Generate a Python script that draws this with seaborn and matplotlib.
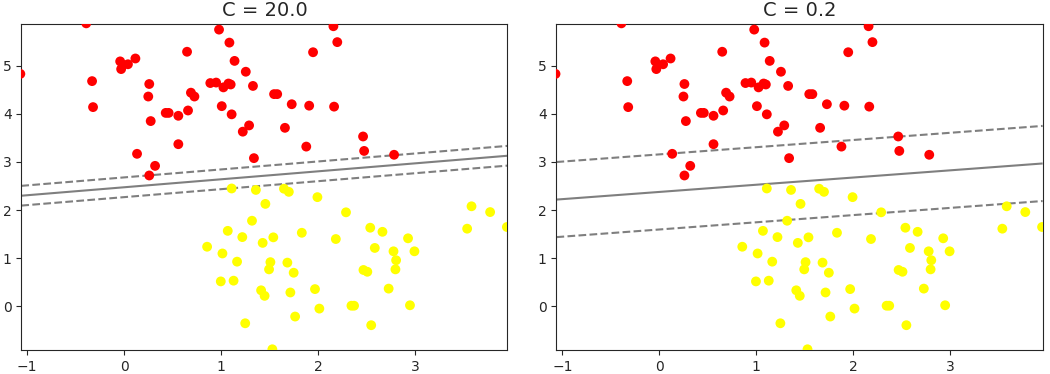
import numpy as np
import pandas as pd
import matplotlib
matplotlib.use("Agg")
import matplotlib.pyplot as plt
import seaborn as sns

# --- data ---
red_x = [-0.39, 0.98, 1.087, 0.65, 1.14, 0.117, -0.04, 0.04, -0.03, -1.07,
         1.256, -0.33, 0.26, 0.89, 0.95, 1.025, 1.077, 1.10, 1.33, 0.69,
         0.726, 0.25, -0.32, 1.008, 0.43, 0.46, 0.56, 0.66, 1.11, 0.275,
         1.29, 1.225, 0.56, 1.34, 0.134, 0.32, 0.26, 2.16, 2.20, 1.95,
         1.548, 1.58, 1.73, 1.91, 2.167, 1.66, 1.88, 2.466, 2.477, 2.786]
red_y = [5.88, 5.75, 5.48, 5.29, 5.10, 5.15, 5.09, 5.03, 4.93, 4.83,
         4.875, 4.68, 4.62, 4.64, 4.65, 4.55, 4.63, 4.61, 4.58, 4.44,
         4.36, 4.36, 4.14, 4.16, 4.02, 4.02, 3.96, 4.07, 3.99, 3.85,
         3.76, 3.63, 3.37, 3.08, 3.17, 2.92, 2.72, 5.82, 5.49, 5.28,
         4.41, 4.41, 4.20, 4.17, 4.15, 3.71, 3.32, 3.53, 3.23, 3.15]
yel_x = [1.11, 1.36, 1.458, 1.32, 1.07, 1.22, 1.43, 0.857, 1.015, 1.166,
         0.998, 1.13, 1.414, 1.45, 1.25, 1.65, 1.70, 1.995, 2.29, 3.585,
         3.777, 3.54, 3.95, 2.54, 2.666, 1.834, 1.54, 2.185, 2.93, 2.587,
         2.78, 2.996, 2.807, 1.51, 1.685, 1.496, 1.75, 2.47, 2.51, 2.80,
         1.97, 1.716, 2.73, 2.015, 2.346, 2.373, 2.95, 1.765, 2.55, 1.53]
yel_y = [2.45, 2.42, 2.13, 1.78, 1.57, 1.44, 1.32, 1.24, 1.10, 0.93,
         0.52, 0.535, 0.335, 0.22, -0.35, 2.445, 2.38, 2.27, 1.955, 2.08,
         1.96, 1.615, 1.65, 1.635, 1.55, 1.53, 1.435, 1.40, 1.415, 1.215,
         1.145, 1.145, 0.96, 0.92, 0.91, 0.77, 0.70, 0.757, 0.72, 0.77,
         0.36, 0.29, 0.37, -0.045, 0.015, 0.015, 0.024, -0.21, -0.39, -0.89]

C_values = [20.0, 0.2]
# decision boundary y = slope*x + intercept, margin half-width (in y)
line_slope = [0.1655, 0.1495]
line_intercept = [2.475, 2.378]
line_margin = [0.205, 0.78]

xlim = (-1.06, 3.956)
ylim = (-0.911, 5.86)

df = pd.DataFrame({
    "x": red_x + yel_x,
    "y": red_y + yel_y,
    "label": [0] * len(red_x) + [1] * len(yel_x),
})

sns.set_style("ticks")
plt.rcParams["font.family"] = ["DejaVu Sans"]

fig, axes = plt.subplots(1, 2, figsize=(10.5, 3.74), dpi=100)
fig.subplots_adjust(left=0.0203, right=0.993, bottom=0.0634, top=0.935, wspace=0.1008)

for ax, C, m, c, d in zip(axes, C_values, line_slope, line_intercept, line_margin):
    sns.scatterplot(data=df, x="x", y="y", hue="label",
                    palette={0: "#ff0000", 1: "#ffff00"}, s=50, linewidth=0,
                    legend=False, ax=ax, zorder=3)
    gx = np.linspace(xlim[0], xlim[1], 60)
    gy = np.linspace(ylim[0], ylim[1], 60)
    X, Y = np.meshgrid(gx, gy)
    P = (Y - (m * X + c)) / d
    ax.contour(X, Y, P, colors="k", levels=[-1, 0, 1], alpha=0.5,
               linestyles=["--", "-", "--"], linewidths=1.5)
    ax.set_xlim(xlim)
    ax.set_ylim(ylim)
    ax.set_xlabel("")
    ax.set_ylabel("")
    ax.set_xticks([-1, 0, 1, 2, 3])
    ax.set_yticks([0, 1, 2, 3, 4, 5])
    ax.tick_params(labelsize=10, colors="#262626")
    for sp in ax.spines.values():
        sp.set_visible(True)
        sp.set_color("#262626")
    ax.set_title(f"C = {C:.1f}", fontsize=14)

fig.savefig("out.png", dpi=100, facecolor="white")
